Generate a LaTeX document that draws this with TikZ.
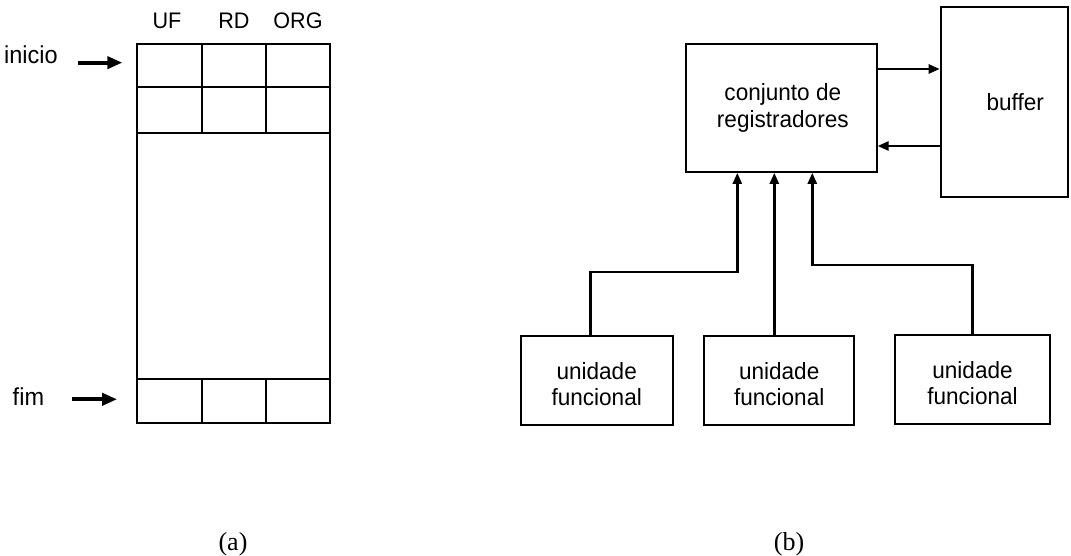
\documentclass[tikz,border=0pt]{standalone}
\usepackage{fontspec}
\setmainfont{Liberation Sans}[FakeStretch=0.96]
\newfontfamily\capfont{Liberation Serif}
\usetikzlibrary{arrows.meta,calc}
\begin{document}
\begin{tikzpicture}[x=1pt,y=-1pt, line width=1.8pt,
  box/.style={draw, rectangle, inner sep=0pt, line width=2pt},
  cell/.style={draw, rectangle, inner sep=0pt},
  txt/.style={inner sep=0pt, align=center, font=\fontsize{23.5}{26.5}\selectfont},
  hdr/.style={inner sep=0pt, font=\fontsize{22.5}{26}\selectfont},
  side/.style={inner sep=0pt, font=\fontsize{24.5}{28}\selectfont},
  bigarrow/.style={line width=4pt, -{Triangle[length=15pt,width=12pt]}},
  conn/.style={line width=2.5pt, -{Triangle[length=11pt,width=9pt]}},
  sub/.style={inner sep=0pt, font=\capfont\fontsize{26}{30}\selectfont}]
\useasboundingbox (0,0) rectangle (1071,555);

% ---- (a) table ----
\node[cell, minimum width=65pt,   minimum height=43.3pt] (r1c1) at (169.2,65.65) {};
\node[cell, minimum width=64pt,   minimum height=43.3pt] (r1c2) at (233.7,65.65) {};
\node[cell, minimum width=64.3pt, minimum height=43.3pt] (r1c3) at (297.85,65.65) {};
\node[cell, minimum width=65pt,   minimum height=45.4pt] (r2c1) at (169.2,110) {};
\node[cell, minimum width=64pt,   minimum height=45.4pt] (r2c2) at (233.7,110) {};
\node[cell, minimum width=64.3pt, minimum height=45.4pt] (r2c3) at (297.85,110) {};
\node[cell, minimum width=193.3pt, minimum height=246.6pt] (mid) at (233.35,256) {};
\node[cell, minimum width=65pt,   minimum height=44pt] (r3c1) at (169.2,401.3) {};
\node[cell, minimum width=64pt,   minimum height=44pt] (r3c2) at (233.7,401.3) {};
\node[cell, minimum width=64.3pt, minimum height=44pt] (r3c3) at (297.85,401.3) {};

\node[hdr, anchor=base] (hUF)  at (167,28.3) {UF};
\node[hdr, anchor=base] (hRD)  at (234,28.3) {RD};
\node[hdr, anchor=base] (hORG) at (298,28.3) {ORG};

\node[side, anchor=base west] (ini) at (3.3,63.3) {inicio};
\node[side, anchor=base east] (fim) at (45,405) {fim};
\draw[bigarrow] ([shift={(-58pt,3pt)}]r1c1.west) -- ([shift={(-13.4pt,3pt)}]r1c1.west);
\draw[bigarrow] ([shift={(-63.7pt,2pt)}]r3c1.west) -- ([shift={(-18.7pt,2pt)}]r3c1.west);

\node[sub] (la) at (233,544) {(a)};

% ---- (b) ----
\node[box, minimum width=190.7pt, minimum height=127.7pt] (reg) at (781.3,108) {};
\node[txt] (regt) at ([xshift=1.5pt]reg.center) {conjunto de\\registradores};
\node[box, minimum width=127pt, minimum height=190pt] (buf) at (1004.2,101.7) {};
\node[txt] (buft) at ([xshift=11pt]buf.center) {buffer};

\node[box, minimum width=152pt,   minimum height=89pt] (u1) at (596.7,380) {};
\node[box, minimum width=150.3pt, minimum height=89pt] (u2) at (779.2,380) {};
\node[box, minimum width=155pt,   minimum height=89pt] (u3) at (972.5,379.2) {};
\node[txt] (u1t) at ([yshift=-4pt]u1.center) {unidade\\funcional};
\node[txt] (u2t) at ([yshift=-4pt]u2.center) {unidade\\funcional};
\node[txt] (u3t) at ([yshift=-4pt]u3.center) {unidade\\funcional};

\coordinate (p1) at ([yshift=39pt]reg.east);
\coordinate (p2) at ([yshift=-38pt]reg.east);
\draw[conn] (p1) -- (p1 -| buf.west);
\draw[conn] (p2 -| buf.west) -- (p2);

\coordinate (e1) at ([xshift=-44pt]reg.south);
\coordinate (e2) at ([xshift=-7pt]reg.south);
\coordinate (e3) at ([xshift=31pt]reg.south);
\draw[conn] ([xshift=-6pt]u1.north) -- ++(0,-62.7) -| (e1);
\draw[conn] (e2 |- u2.north) -- (e2);
\draw[conn] (u3.north) -- ++(0,-68.8) -| (e3);

\node[sub] (lb) at (789,544) {(b)};
\end{tikzpicture}
\end{document}
